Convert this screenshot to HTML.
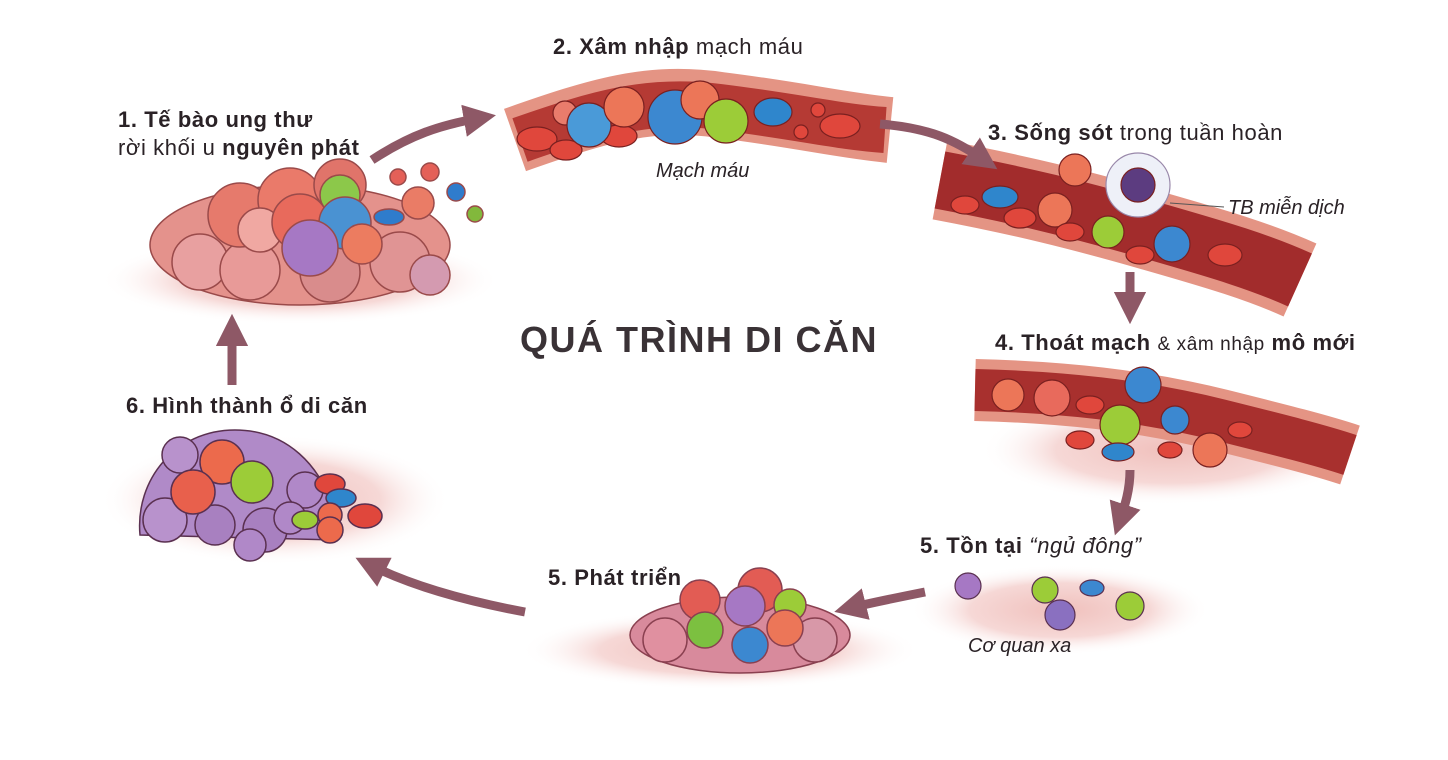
<!DOCTYPE html>
<html><head><meta charset="utf-8"><style>
html,body{margin:0;padding:0;background:#fff;}
svg{display:block;}
text{font-family:"Liberation Sans","DejaVu Sans",sans-serif;fill:#2a2226;}
.b{font-weight:bold;font-size:22px;letter-spacing:0.6px;}
.i{font-style:italic;font-size:20px;}
</style></head><body>
<svg width="1448" height="760" viewBox="0 0 1448 760" xmlns="http://www.w3.org/2000/svg">
<defs>
<marker id="ah" markerWidth="3.6" markerHeight="3.6" refX="1.8" refY="1.8" orient="auto" markerUnits="strokeWidth">
<path d="M0,0 L3.6,1.8 L0,3.6 z" fill="#8e5866"/></marker>
<radialGradient id="tis" cx="50%" cy="50%" r="50%"><stop offset="0" stop-color="#f0c0bc"/><stop offset="0.6" stop-color="#f6d8d6"/><stop offset="1" stop-color="#fff" stop-opacity="0"/></radialGradient>
</defs>
<rect width="1448" height="760" fill="#fff"/>

<!-- tissue backgrounds -->
<ellipse cx="300" cy="280" rx="200" ry="45" fill="url(#tis)"/>
<ellipse cx="275" cy="500" rx="175" ry="65" fill="url(#tis)"/>
<ellipse cx="720" cy="650" rx="200" ry="40" fill="url(#tis)"/>
<ellipse cx="1060" cy="610" rx="150" ry="45" fill="url(#tis)"/>
<ellipse cx="1170" cy="450" rx="190" ry="55" fill="url(#tis)"/>

<!-- vessel 1 -->
<path d="M515,140 C600,110 650,95 720,105 C800,115 840,125 890,130" stroke="#e49484" stroke-width="66" fill="none"/>
<path d="M520,140 C600,112 650,98 720,107 C800,117 840,127 885,130" stroke="#b53a34" stroke-width="46" fill="none"/>
<!-- vessel 2 -->
<path d="M940,180 C1020,195 1080,210 1150,230 C1220,250 1260,262 1300,280" stroke="#e49484" stroke-width="80" fill="none"/>
<path d="M940,180 C1020,195 1080,210 1150,230 C1220,250 1260,262 1300,280" stroke="#a22c2c" stroke-width="58" fill="none"/>
<!-- vessel 3 -->
<path d="M975,390 C1060,392 1140,400 1220,420 C1280,435 1320,445 1350,455" stroke="#e49484" stroke-width="62" fill="none"/>
<path d="M975,390 C1060,392 1140,400 1220,420 C1280,435 1320,445 1350,455" stroke="#a8302e" stroke-width="42" fill="none"/>

<!-- arrows -->
<g stroke="#8e5866" stroke-width="9" fill="none" marker-end="url(#ah)">
<path d="M372,160 C410,135 440,125 480,118"/>
<path d="M880,124 C930,128 955,140 984,160"/>
<path d="M1130,272 L1130,308"/>
<path d="M1130,470 C1130,490 1125,505 1120,520"/>
<path d="M925,592 C895,598 870,603 850,608"/>
<path d="M525,612 C460,600 410,585 370,565"/>
<path d="M232,385 L232,330"/>
</g>

<!-- tumor 1 -->
<g stroke="#9a4a4a" stroke-width="1.5">
<ellipse cx="300" cy="245" rx="150" ry="60" fill="#e4928c"/>
<circle cx="200" cy="262" r="28" fill="#e8a0a0"/><circle cx="250" cy="270" r="30" fill="#e89a98"/>
<circle cx="330" cy="272" r="30" fill="#d98c8c"/><circle cx="400" cy="262" r="30" fill="#e09494"/>
<circle cx="430" cy="275" r="20" fill="#d49ab0"/>
<circle cx="240" cy="215" r="32" fill="#e67a6c"/><circle cx="290" cy="200" r="32" fill="#ea7a6a"/>
<circle cx="340" cy="185" r="26" fill="#e0746a"/><circle cx="260" cy="230" r="22" fill="#f0a8a2"/>
<circle cx="300" cy="222" r="28" fill="#e86a5c"/>
<circle cx="340" cy="195" r="20" fill="#8cc84a"/>
<circle cx="345" cy="223" r="26" fill="#4a92d2"/>
<circle cx="310" cy="248" r="28" fill="#a678c4"/>
<circle cx="362" cy="244" r="20" fill="#ec7c60"/>
<ellipse cx="389" cy="217" rx="15" ry="8" fill="#2f7ccc"/>
<circle cx="418" cy="203" r="16" fill="#ea7c66"/>
<circle cx="398" cy="177" r="8" fill="#e46058"/><circle cx="430" cy="172" r="9" fill="#e46058"/>
<circle cx="456" cy="192" r="9" fill="#2f7ccc"/><circle cx="475" cy="214" r="8" fill="#82b83c"/>
</g>

<!-- vessel 1 cells -->
<g stroke="#7a2020" stroke-width="1.2">
<ellipse cx="537" cy="139" rx="20" ry="12" fill="#e0473c"/><ellipse cx="566" cy="150" rx="16" ry="10" fill="#e0473c"/>
<ellipse cx="619" cy="136" rx="18" ry="11" fill="#e0473c"/>
<circle cx="565" cy="113" r="12" fill="#e97c6c"/>
<circle cx="589" cy="125" r="22" fill="#4a9ad8"/>
<circle cx="624" cy="107" r="20" fill="#ec7658"/>
<circle cx="675" cy="117" r="27" fill="#3c88d0"/>
<circle cx="700" cy="100" r="19" fill="#ec7658"/>
<circle cx="726" cy="121" r="22" fill="#9ccc38"/>
<ellipse cx="773" cy="112" rx="19" ry="14" fill="#2f86cc"/>
<circle cx="818" cy="110" r="7" fill="#e0473c"/><circle cx="801" cy="132" r="7" fill="#e0473c"/>
<ellipse cx="840" cy="126" rx="20" ry="12" fill="#e0473c"/>
</g>

<!-- vessel 2 cells -->
<g stroke="#7a2020" stroke-width="1.2">
<circle cx="1075" cy="170" r="16" fill="#ec7658"/>
<circle cx="1138" cy="185" r="32" fill="#eef0f8" stroke="#98a"/>
<circle cx="1138" cy="185" r="17" fill="#5c3c80"/>
<ellipse cx="1000" cy="197" rx="18" ry="11" fill="#2f86cc"/>
<ellipse cx="1020" cy="218" rx="16" ry="10" fill="#e0473c"/>
<circle cx="1055" cy="210" r="17" fill="#ec7658"/>
<ellipse cx="1070" cy="232" rx="14" ry="9" fill="#e0473c"/>
<circle cx="1108" cy="232" r="16" fill="#9ccc38"/>
<circle cx="1172" cy="244" r="18" fill="#3c88d0"/>
<ellipse cx="1225" cy="255" rx="17" ry="11" fill="#e0473c"/>
<ellipse cx="1140" cy="255" rx="14" ry="9" fill="#e0473c"/>
<ellipse cx="965" cy="205" rx="14" ry="9" fill="#e0473c"/>
</g>

<!-- vessel 3 cells -->
<g stroke="#7a2020" stroke-width="1.2">
<circle cx="1008" cy="395" r="16" fill="#ec7658"/>
<circle cx="1052" cy="398" r="18" fill="#e86a5c"/>
<circle cx="1143" cy="385" r="18" fill="#3c88d0"/>
<circle cx="1120" cy="425" r="20" fill="#9ccc38"/>
<circle cx="1175" cy="420" r="14" fill="#3c88d0"/>
<circle cx="1210" cy="450" r="17" fill="#ec7658"/>
<ellipse cx="1118" cy="452" rx="16" ry="9" fill="#2f86cc"/>
<ellipse cx="1080" cy="440" rx="14" ry="9" fill="#e0473c"/>
<ellipse cx="1170" cy="450" rx="12" ry="8" fill="#e0473c"/>
<ellipse cx="1240" cy="430" rx="12" ry="8" fill="#e0473c"/>
<ellipse cx="1090" cy="405" rx="14" ry="9" fill="#e0473c"/>
</g>

<!-- dormant cells -->
<g stroke="#5a3050" stroke-width="1.2">
<circle cx="968" cy="586" r="13" fill="#a678c4"/>
<circle cx="1045" cy="590" r="13" fill="#9ccc38"/>
<circle cx="1060" cy="615" r="15" fill="#8a70c0"/>
<ellipse cx="1092" cy="588" rx="12" ry="8" fill="#3c88d0"/>
<circle cx="1130" cy="606" r="14" fill="#9ccc38"/>
</g>

<!-- tumor 5 growth -->
<g stroke="#8a4050" stroke-width="1.5">
<ellipse cx="740" cy="635" rx="110" ry="38" fill="#d88a9c"/>
<circle cx="665" cy="640" r="22" fill="#e090a0"/><circle cx="815" cy="640" r="22" fill="#d898a8"/>
<circle cx="700" cy="600" r="20" fill="#e25c54"/><circle cx="760" cy="590" r="22" fill="#e25c54"/>
<circle cx="745" cy="606" r="20" fill="#a678c4"/>
<circle cx="790" cy="605" r="16" fill="#9ccc38"/>
<circle cx="785" cy="628" r="18" fill="#ec7658"/>
<circle cx="705" cy="630" r="18" fill="#7cc040"/>
<circle cx="750" cy="645" r="18" fill="#3c88d0"/>
</g>

<!-- tumor 6 -->
<g stroke="#5a3050" stroke-width="1.5">
<path d="M140,535 C135,480 175,430 235,430 C290,430 320,470 330,500 L335,540 Z" fill="#b08ac8"/>
<circle cx="165" cy="520" r="22" fill="#b892cc"/><circle cx="215" cy="525" r="20" fill="#a880c0"/>
<circle cx="265" cy="530" r="22" fill="#a880c0"/><circle cx="250" cy="545" r="16" fill="#b088c8"/>
<circle cx="180" cy="455" r="18" fill="#b892cc"/><circle cx="305" cy="490" r="18" fill="#b088c8"/>
<circle cx="222" cy="462" r="22" fill="#ec6a4c"/>
<circle cx="193" cy="492" r="22" fill="#e8604c"/>
<circle cx="252" cy="482" r="21" fill="#9ccc38"/>
<circle cx="290" cy="518" r="16" fill="#b088c8"/>
<ellipse cx="330" cy="484" rx="15" ry="10" fill="#e0473c"/>
<ellipse cx="341" cy="498" rx="15" ry="9" fill="#2f86cc"/>
<circle cx="330" cy="515" r="12" fill="#ec6a4c"/>
<ellipse cx="365" cy="516" rx="17" ry="12" fill="#e0473c"/>
<ellipse cx="305" cy="520" rx="13" ry="9" fill="#9ccc38"/>
<circle cx="330" cy="530" r="13" fill="#ec6a4c"/>
</g>

<!-- labels -->
<text x="118" y="127" class="b">1. Tế bào ung thư</text>
<text x="118" y="155" class="b"><tspan font-weight="normal">rời khối u</tspan> nguyên phát</text>
<text x="553" y="54" class="b">2. Xâm nhập <tspan font-weight="normal">mạch máu</tspan></text>
<text x="656" y="177" class="i">Mạch máu</text>
<text x="988" y="140" class="b">3. Sống sót <tspan font-weight="normal">trong tuần hoàn</tspan></text>
<text x="1228" y="214" class="i">TB miễn dịch</text>
<line x1="1170" y1="203" x2="1224" y2="207" stroke="#555" stroke-width="1"/>
<text x="995" y="350" class="b">4. Thoát mạch <tspan font-weight="normal" font-size="19">&amp; xâm nhập</tspan> mô mới</text>
<text x="920" y="553" class="b">5. Tồn tại <tspan font-weight="normal" font-style="italic">“ngủ đông”</tspan></text>
<text x="968" y="652" class="i">Cơ quan xa</text>
<text x="548" y="585" class="b">5. Phát triển</text>
<text x="126" y="413" class="b">6. Hình thành ổ di căn</text>
<text x="520" y="352" style="font-size:36px;font-weight:bold;fill:#3a3236;letter-spacing:1.5px">QUÁ TRÌNH DI CĂN</text>
</svg>
</body></html>
